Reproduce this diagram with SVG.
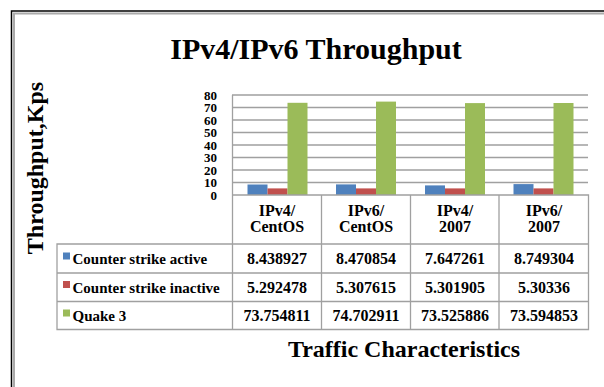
<svg xmlns="http://www.w3.org/2000/svg" width="604" height="387" viewBox="0 0 604 387">
<style>
.t{font-family:"Liberation Serif","Times New Roman",serif;font-weight:bold;fill:#000}
.grid{stroke:#a0a0a0;stroke-width:1.3;fill:none}
.tbl{stroke:#a0a0a0;stroke-width:1.3;fill:none}
.blue{fill:#4F81BD}.red{fill:#C0504D}.green{fill:#9BBB59}
</style>
<rect x="0" y="0" width="604" height="387" fill="#fff"/>
<g id="frame">
<path d="M11.5 400 V11 H610" stroke="#000" stroke-width="1.5" fill="none"/>
<path d="M14 400 V13.5 H610" stroke="#aaa" stroke-width="2" fill="none"/>
</g>
<g id="title"><text class="t" x="316" y="59" font-size="30" text-anchor="middle">IPv4/IPv6 Throughput</text></g>
<g id="ytitle"><text class="t" transform="translate(43,168) rotate(-90)" font-size="24" text-anchor="middle">Throughput,Kps</text></g>
<g id="xtitle"><text class="t" x="404" y="357" font-size="24" text-anchor="middle">Traffic Characteristics</text></g>
<g id="gridlines">
<path class="grid" d="M232 95H588M232 107.5H588M232 120H588M232 132.5H588M232 145H588M232 157.5H588M232 170H588M232 182.5H588"/>
<path class="grid" d="M232.5 95V195"/>
</g>
<g id="yaxis" class="t" font-size="13" text-anchor="end">
<text x="217" y="99.5">80</text><text x="217" y="112">70</text><text x="217" y="124.5">60</text><text x="217" y="137">50</text><text x="217" y="149.5">40</text><text x="217" y="162">30</text><text x="217" y="174.5">20</text><text x="217" y="187">10</text><text x="217" y="199.5">0</text>
</g>
<g id="bars">
<rect class="blue" x="247.5" y="184.5" width="20" height="10.5"/>
<rect class="red" x="267.5" y="188.4" width="20" height="6.6"/>
<rect class="green" x="287.5" y="102.8" width="20" height="92.2"/>
<rect class="blue" x="336" y="184.4" width="20" height="10.6"/>
<rect class="red" x="356" y="188.4" width="20" height="6.6"/>
<rect class="green" x="376" y="101.6" width="20" height="93.4"/>
<rect class="blue" x="425" y="185.4" width="20" height="9.6"/>
<rect class="red" x="445" y="188.4" width="20" height="6.6"/>
<rect class="green" x="465" y="103.1" width="20" height="91.9"/>
<rect class="blue" x="513.5" y="184.1" width="20" height="10.9"/>
<rect class="red" x="533.5" y="188.4" width="20" height="6.6"/>
<rect class="green" x="553.5" y="103" width="20" height="92"/>
</g>
<g id="table">
<path class="tbl" d="M232.5 195H588.5V329.5H57V244H588.5M57 273H588.5M57 301.5H588.5M232.5 195V329.5M321.5 195V329.5M410.5 195V329.5M499 195V329.5"/>
<rect class="blue" x="63" y="252.5" width="7" height="7"/>
<rect class="red" x="63" y="281" width="7" height="7"/>
<rect class="green" x="63" y="309.5" width="7" height="7"/>
<g class="t" font-size="15">
<text x="72.5" y="264">Counter strike active</text>
<text x="72.5" y="292.5">Counter strike inactive</text>
<text x="72.5" y="321">Quake 3</text>
</g>
<g class="t" font-size="16" text-anchor="middle">
<text x="277" y="215.5">IPv4/</text><text x="277" y="232">CentOS</text>
<text x="366" y="215.5">IPv6/</text><text x="366" y="232">CentOS</text>
<text x="455" y="215.5">IPv4/</text><text x="455" y="232">2007</text>
<text x="544" y="215.5">IPv6/</text><text x="544" y="232">2007</text>
<text x="277" y="264">8.438927</text><text x="366" y="264">8.470854</text><text x="455" y="264">7.647261</text><text x="544" y="264">8.749304</text>
<text x="277" y="292.5">5.292478</text><text x="366" y="292.5">5.307615</text><text x="455" y="292.5">5.301905</text><text x="544" y="292.5">5.30336</text>
<text x="277" y="321">73.754811</text><text x="366" y="321">74.702911</text><text x="455" y="321">73.525886</text><text x="544" y="321">73.594853</text>
</g>
</g>
</svg>
